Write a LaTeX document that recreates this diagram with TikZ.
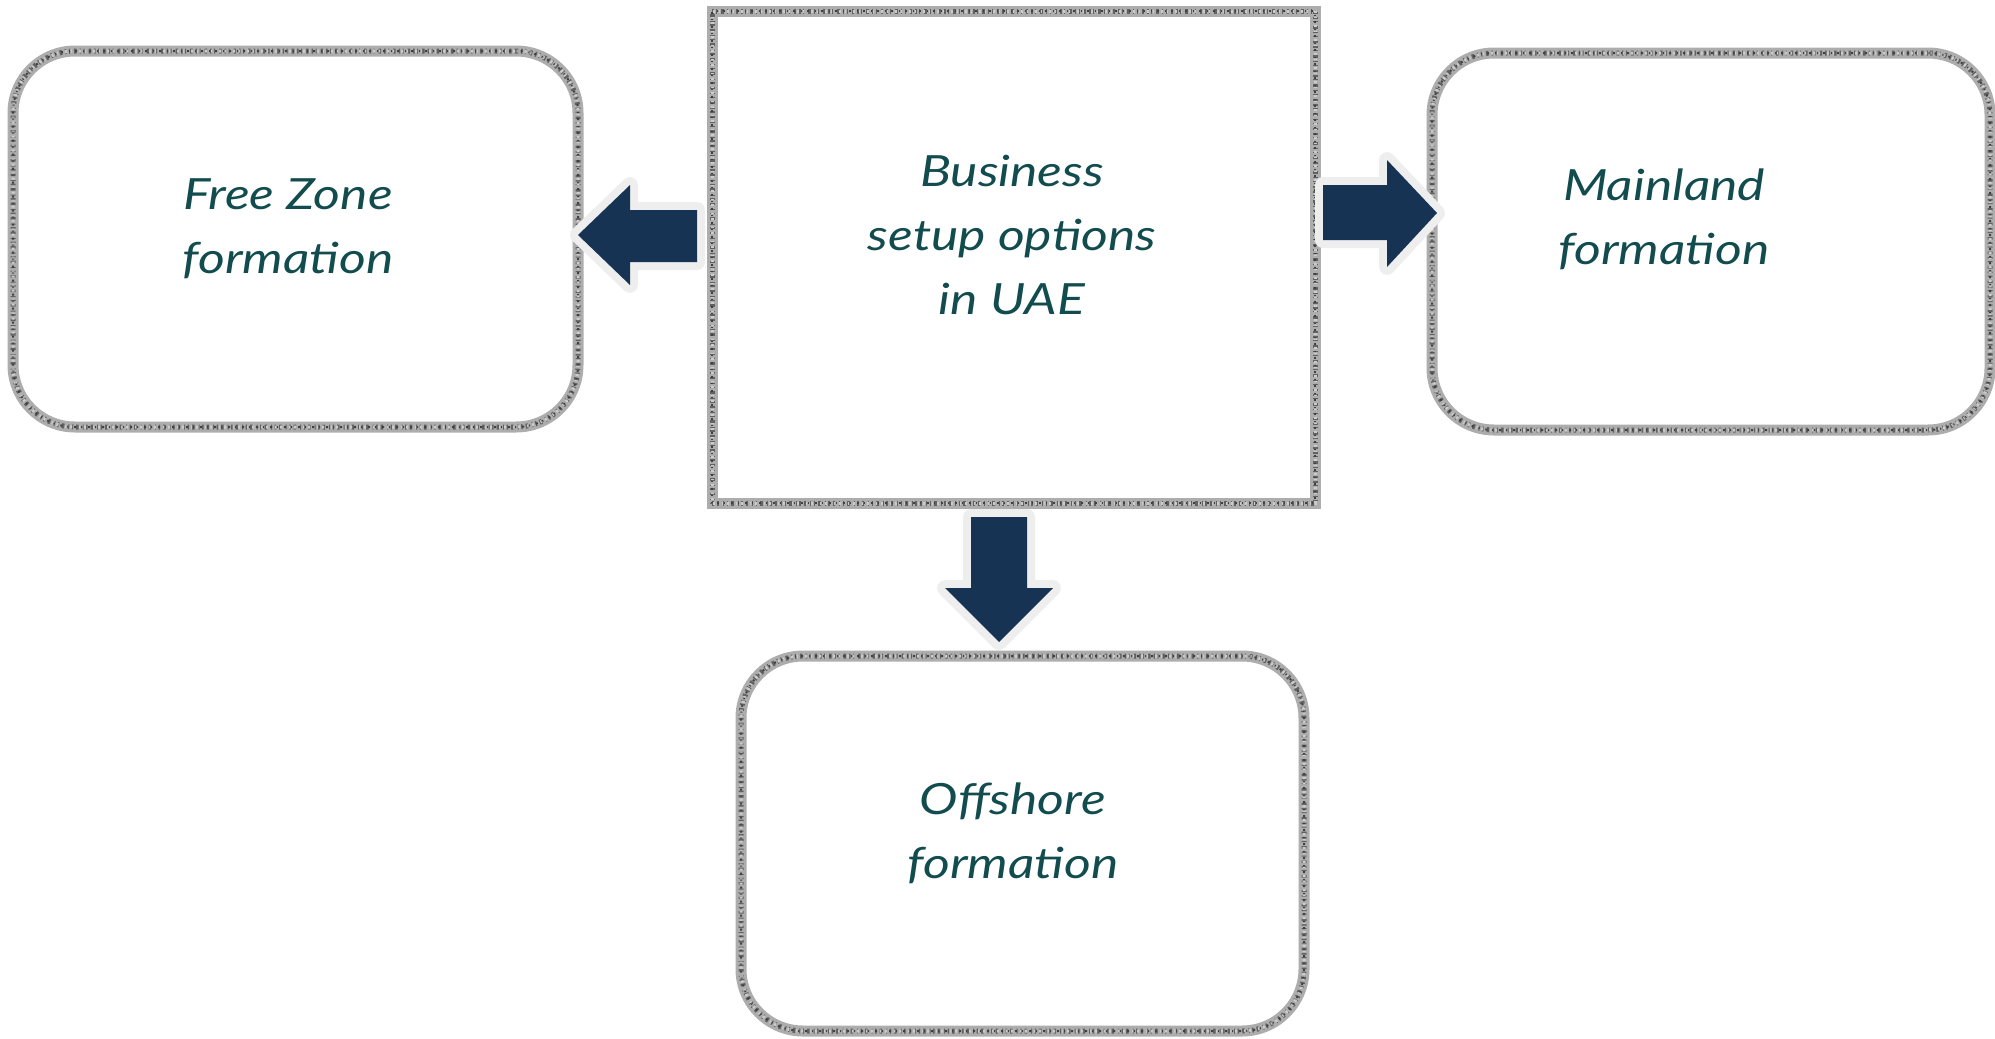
\documentclass[tikz,border=0pt]{standalone}
\usepackage{fontspec}
\setmainfont{Lato}
\newfontfamily\handfont{Lato}[FakeStretch=1.2]
\begin{document}
\begin{tikzpicture}[x=1pt,y=-1pt,
  roughbox/.style={draw=black!32, line width=11pt, inner sep=0pt,
    postaction={draw=black!62, line width=5pt, dash pattern=on 1.5pt off 3pt on 2.5pt off 4pt on 1pt off 2.5pt},
    postaction={draw=black!75, line width=2pt, dash pattern=on 1pt off 6pt on 2pt off 5pt, dash phase=2pt},
    postaction={draw=white!80!black, line width=3pt, dash pattern=on 1pt off 4pt on 2pt off 7pt, dash phase=4pt}},
  roundbox/.style={roughbox, rounded corners=62pt},
  label/.style={text=txtcol, font=\handfont\fontsize{43}{64}\selectfont\itshape, align=center, inner sep=0pt},
  arrowline/.style={draw=arrowedge, line width=16pt, line join=round},
  arrowfill/.style={fill=arrownavy}
]
\definecolor{txtcol}{RGB}{18,76,78}
\definecolor{arrownavy}{RGB}{22,51,84}
\definecolor{arrowedge}{RGB}{238,238,238}
\useasboundingbox (0,0) rectangle (1995,1039);

% boxes
\node[roughbox, minimum width=603pt, minimum height=492pt] (center) at (1013.5,257) {};
\node[roundbox, minimum width=565pt, minimum height=376pt] (free) at (295.5,239) {};
\node[roundbox, minimum width=558pt, minimum height=377pt] (main) at (1711,241.5) {};
\node[roundbox, minimum width=563pt, minimum height=375pt] (off) at (1022.5,843.5) {};

% texts
\node[label] (centert) at (1012,235) {Business\\setup options\\in UAE};
\node[label] (freet) at (288,229) {Free Zone\\formation};
\node[label] (maint) at (1664,219) {Mainland\\formation};
\node[label] (offt) at (1013,833) {Offshore\\formation};

% block arrows
\foreach \s in {arrowline,arrowfill}{
  \path[\s] (578,235) -- (630,185) -- (630,210) -- (697,210) -- (697,262) -- (630,262) -- (630,285) -- cycle;
  \path[\s] (1437,213) -- (1387,160) -- (1387,185) -- (1323,185) -- (1323,240) -- (1387,240) -- (1387,267) -- cycle;
  \path[\s] (999,642) -- (945,588) -- (971,588) -- (971,517) -- (1027,517) -- (1027,588) -- (1053,588) -- cycle;
}
\end{tikzpicture}
\end{document}
